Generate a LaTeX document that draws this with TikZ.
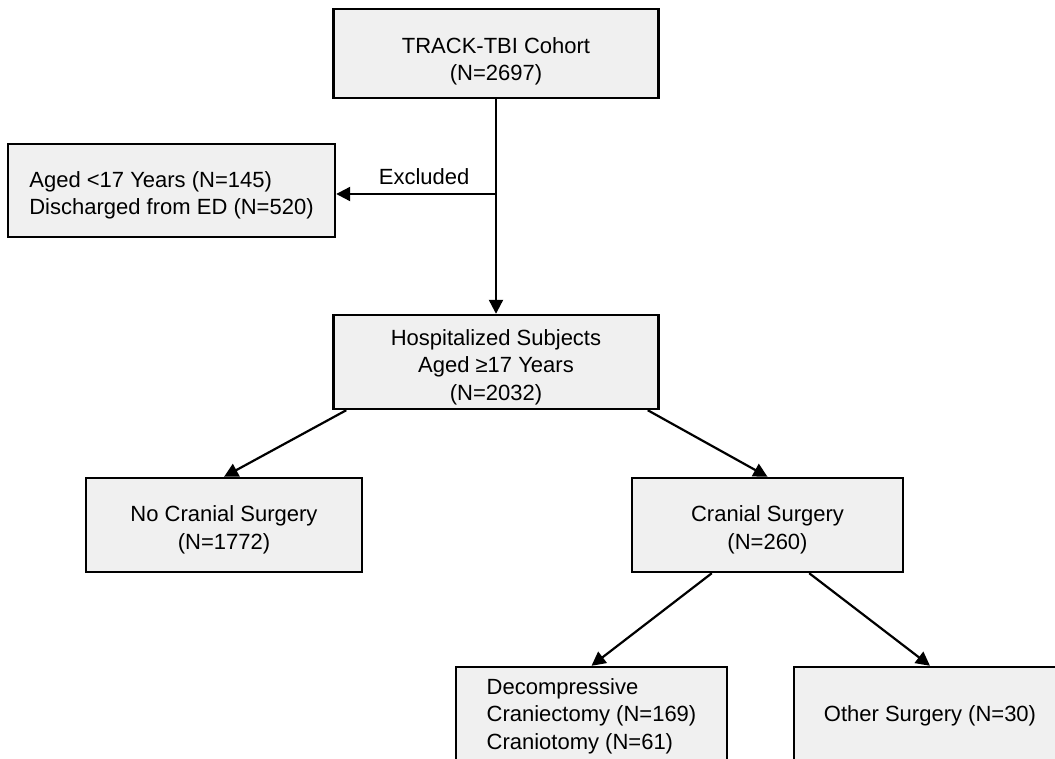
\documentclass[tikz,border=0pt]{standalone}
\usepackage{fontspec}
\setmainfont{Liberation Sans}
\usetikzlibrary{arrows.meta}
\definecolor{boxgray}{RGB}{240,240,240}
\newcommand{\topgap}[1][13pt]{\rule{0pt}{#1}}
\begin{document}
\begin{tikzpicture}[x=0.5pt, y=-0.5pt,
  every node/.style = {font=\fontsize{11}{13.75}\selectfont},
  box/.style = {shape=rectangle, draw, line width=1.2pt, fill=boxgray,
    align=center, inner sep=0pt, minimum height=47pt},
  arr/.style = {line width=1.1pt, -{Triangle[length=7pt,width=7pt]}}]
  \clip (0,0) rectangle (1055,759);
  \node[box, minimum width=162.5pt, minimum height=44.5pt] (cohort) at (496,53.5) {\topgap[16pt]TRACK-TBI Cohort\\(N=2697)};
  \node[box, minimum width=163.5pt, minimum height=46.5pt, align=left] (excl) at (171.5,190.5) {\topgap Aged <17 Years (N=145)\\Discharged from ED (N=520)};
  \node[box, minimum width=162.5pt] (hosp) at (496,362) {\topgap Hospitalized Subjects\\Aged ≥17 Years\\(N=2032)};
  \node[box, minimum width=138pt] (nosurg) at (224,525) {\topgap No Cranial Surgery\\(N=1772)};
  \node[box, minimum width=135.5pt] (surg) at (767.5,525) {\topgap Cranial Surgery\\(N=260)};
  \node[box, minimum width=135.5pt, minimum height=49pt, align=left] (decomp) at (591.5,716) {Decompressive\\Craniectomy (N=169)\\Craniotomy (N=61)};
  \node[box, minimum width=136pt, minimum height=49pt] (other) at (930,716) {Other Surgery (N=30)};
  \coordinate (j) at (cohort.south |- 0,194);
  \draw[arr] (cohort) -- (hosp);
  \draw[arr] (j) -- (j -| excl.east) node[pos=0.45, above=1pt] {Excluded};
  \draw[arr] ([xshift=7pt]hosp.south west) -- (nosurg.north);
  \draw[arr] ([xshift=-6pt]hosp.south east) -- (surg.north);
  \draw[arr] ([xshift=40.5pt]surg.south west) -- (decomp.north);
  \draw[arr] ([xshift=-47.5pt]surg.south east) -- (other.north);
\end{tikzpicture}
\end{document}
